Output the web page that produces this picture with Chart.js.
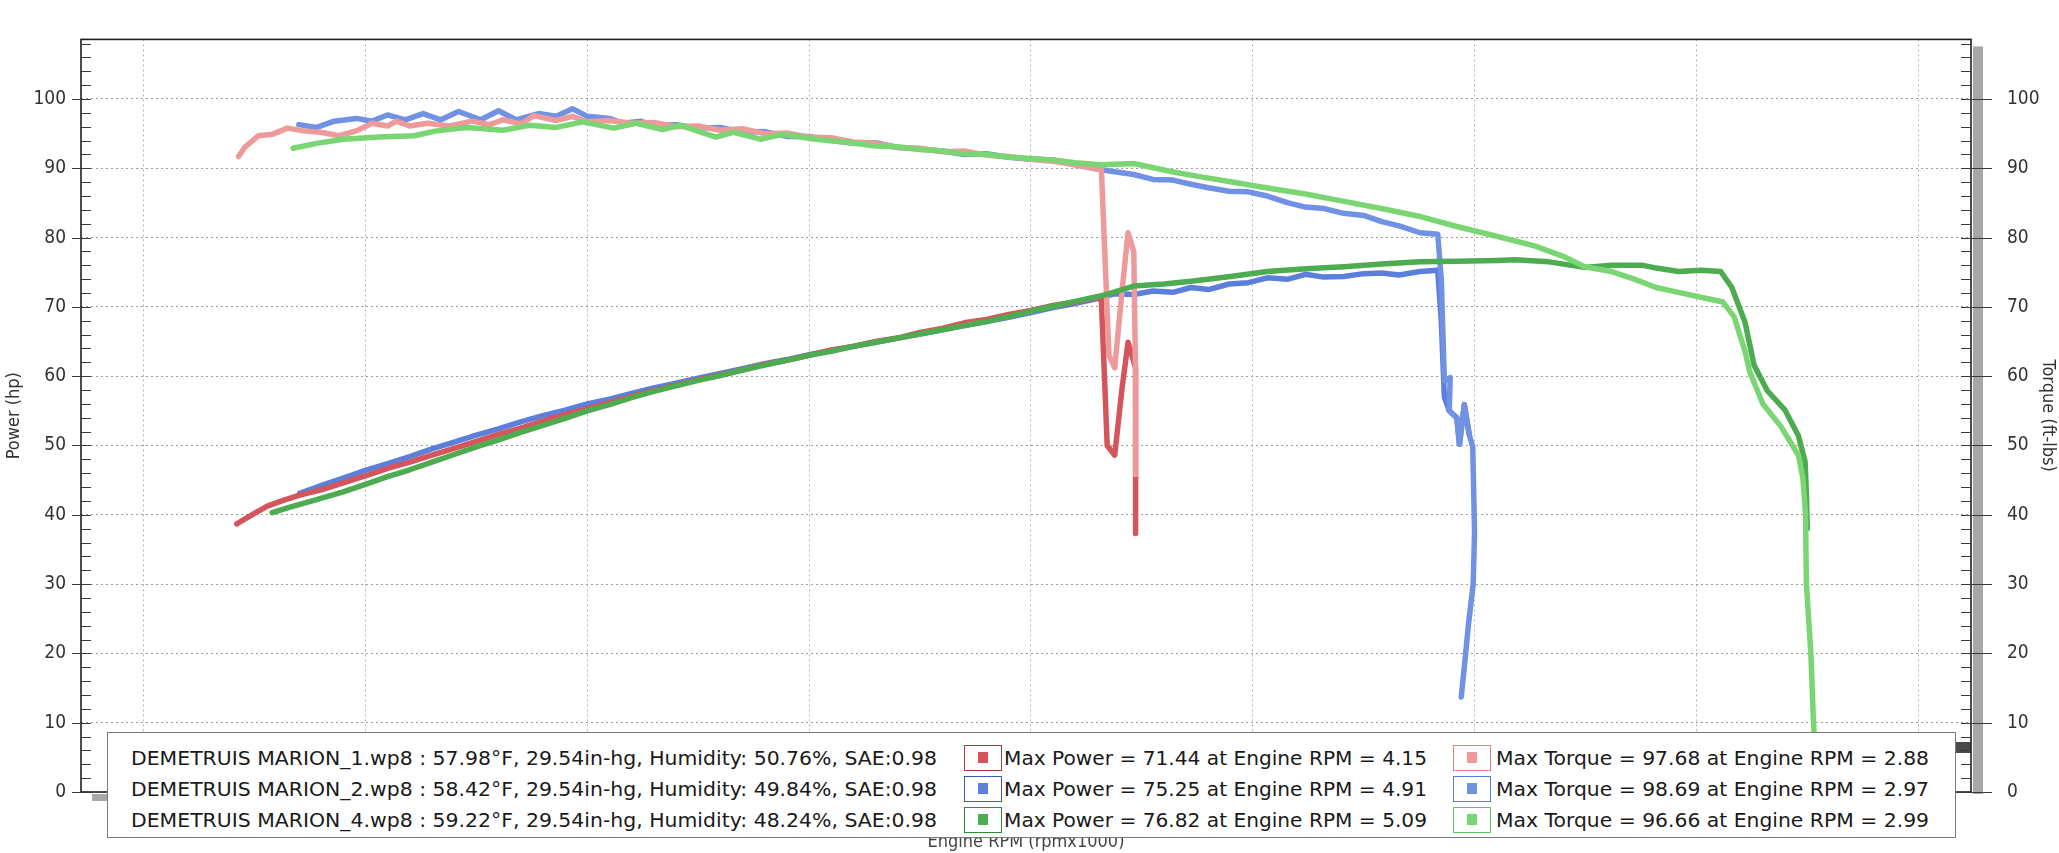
<!DOCTYPE html>
<html><head><meta charset="utf-8">
<script src="https://cdn.jsdelivr.net/npm/chart.js@4.4.1/dist/chart.umd.min.js"></script>
<style>
html,body{margin:0;padding:0;background:#fff;}
#wrap{position:relative;width:2059px;height:853px;overflow:hidden;background:#fff;}
#c{position:absolute;left:0;top:0;}
#legend{position:absolute;left:107px;top:732px;width:1847px;height:104px;border:1px solid #7a7a7a;background:#fff;
 font-family:"DejaVu Sans",sans-serif;font-size:19px;color:#1a1a1a;}
.t{position:absolute;white-space:nowrap;transform-origin:0 50%;line-height:24px;}
.sw{position:absolute;width:38px;height:26px;border:1.5px solid;box-sizing:border-box;}
.sw i{position:absolute;left:13px;top:6px;width:10px;height:11px;}
</style></head>
<body><div id="wrap"><canvas id="c" width="2059" height="853"></canvas><div id="legend"></div></div>
<script>
// ---------- data ----------
const xGridTicks = [2.0,2.5,3.0,3.5,4.0,4.5,5.0,5.5,6.0];
const yTickLabels = [0,10,20,30,40,50,60,70,80,90,100];

const redPowerRpm = [2.21,2.25,2.28,2.32,2.35,2.40,2.45,2.50,2.55,2.60,2.65,2.70,2.75,2.80,2.85,2.90,2.95,3.00,3.05,3.10,3.15,3.20,3.25,3.30,3.35,3.40,3.45,3.50,3.55,3.60,3.65,3.70,3.75,3.80,3.85,3.90,3.95,4.00,4.05,4.10,4.15,4.159,4.172,4.189,4.205,4.219,4.236,4.236];
const redPower    = [38.7,40.2,41.3,42.2,42.8,43.6,44.6,45.6,46.7,47.6,48.6,49.6,50.6,51.6,52.5,53.5,54.5,55.3,56.2,57.1,57.9,58.7,59.5,60.2,60.9,61.7,62.3,63.0,63.8,64.3,65.0,65.5,66.3,66.9,67.7,68.2,68.9,69.5,70.2,70.7,71.4,70.9,50.0,48.6,58.0,64.9,61.2,37.3];

const redTorqueRpm = [2.214,2.229,2.259,2.29,2.324,2.36,2.40,2.44,2.48,2.515,2.55,2.57,2.60,2.64,2.69,2.74,2.78,2.81,2.85,2.88,2.93,2.967,3.0,3.05,3.1,3.15,3.2,3.25,3.3,3.35,3.4,3.45,3.5,3.55,3.6,3.65,3.7,3.75,3.8,3.85,3.9,3.95,4.0,4.05,4.1,4.159,4.176,4.189,4.205,4.219,4.232,4.236,4.236];
const redTorque    = [91.7,93.1,94.7,94.9,95.8,95.4,95.2,94.7,95.4,96.5,96.1,96.8,96.1,96.5,96.1,96.8,96.3,97.0,96.4,97.6,96.9,97.5,96.7,96.9,96.5,96.6,96.0,96.1,95.5,95.7,95.0,95.1,94.5,94.4,93.8,93.6,93.0,92.9,92.4,92.5,91.9,91.7,91.3,91.0,90.5,89.8,63.0,61.2,72.0,80.7,77.9,60.0,45.8];

const bluePowerRpm = [2.352,2.40,2.45,2.50,2.55,2.60,2.65,2.70,2.75,2.80,2.85,2.90,2.95,3.00,3.05,3.10,3.15,3.20,3.25,3.30,3.35,3.40,3.45,3.50,3.55,3.60,3.65,3.70,3.75,3.80,3.85,3.90,3.95,4.00,4.05,4.10,4.159,4.189,4.232,4.275,4.32,4.361,4.40,4.447,4.49,4.533,4.58,4.619,4.66,4.705,4.75,4.791,4.83,4.877,4.917,4.925,4.932,4.943,4.96,4.966,4.977,4.988];
const bluePower    = [43.1,44.2,45.3,46.4,47.4,48.4,49.5,50.5,51.5,52.4,53.4,54.3,55.1,56.0,56.7,57.5,58.3,59.0,59.7,60.4,61.1,61.8,62.4,63.1,63.7,64.3,64.9,65.5,66.1,66.7,67.3,67.9,68.5,69.2,69.9,70.5,71.3,71.9,71.8,72.3,72.1,72.8,72.5,73.3,73.5,74.2,74.0,74.7,74.3,74.4,74.8,74.9,74.6,75.1,75.3,68.0,57.0,55.0,54.0,50.2,55.9,51.6];

const blueTorqueRpm = [2.35,2.39,2.43,2.48,2.515,2.55,2.59,2.63,2.67,2.71,2.76,2.80,2.84,2.89,2.93,2.967,3.0,3.05,3.08,3.12,3.15,3.2,3.25,3.3,3.35,3.4,3.45,3.5,3.55,3.6,3.65,3.7,3.75,3.8,3.85,3.9,3.95,4.0,4.05,4.1,4.159,4.189,4.232,4.275,4.32,4.361,4.40,4.447,4.49,4.533,4.58,4.619,4.66,4.705,4.75,4.791,4.83,4.877,4.917,4.925,4.932,4.945,4.943,4.96,4.966,4.977,4.988,4.996,5.0,4.997,4.986,4.98,4.97];
const blueTorque    = [96.3,95.9,96.8,97.2,96.8,97.7,97.0,97.9,97.0,98.2,97.0,98.3,97.0,97.9,97.5,98.6,97.5,97.2,96.5,96.8,96.2,96.3,95.8,95.9,95.2,95.3,94.6,94.6,94.0,93.6,93.7,93.0,92.8,92.5,92.0,92.1,91.6,91.3,91.2,90.5,89.8,89.5,89.1,88.4,88.3,87.7,87.2,86.7,86.6,86.0,85.0,84.4,84.2,83.5,83.2,82.3,81.7,80.7,80.5,74.0,59.3,59.8,55.0,54.0,50.2,55.9,51.6,49.8,37.5,30.0,24.0,20.0,13.7];

const greenPowerRpm = [2.29,2.33,2.38,2.45,2.50,2.55,2.60,2.65,2.70,2.75,2.80,2.85,2.90,2.95,3.00,3.05,3.10,3.15,3.20,3.25,3.30,3.35,3.40,3.45,3.50,3.55,3.60,3.65,3.70,3.75,3.80,3.85,3.90,3.95,4.00,4.05,4.10,4.159,4.232,4.30,4.361,4.45,4.533,4.62,4.705,4.79,4.877,4.96,5.05,5.09,5.168,5.248,5.309,5.38,5.41,5.46,5.51,5.555,5.58,5.61,5.63,5.66,5.70,5.73,5.745,5.748,5.75];
const greenPower    = [40.3,41.1,42.0,43.3,44.4,45.5,46.5,47.6,48.7,49.8,50.8,51.9,52.9,53.9,55.0,55.9,56.9,57.8,58.6,59.4,60.1,60.9,61.6,62.3,63.0,63.6,64.3,64.9,65.5,66.1,66.7,67.3,67.9,68.6,69.4,70.1,70.8,71.6,73.0,73.3,73.7,74.4,75.1,75.5,75.8,76.2,76.5,76.6,76.7,76.8,76.5,75.7,76.0,76.0,75.6,75.1,75.3,75.1,72.8,67.7,61.6,57.9,55.1,51.4,47.7,43.0,38.0];

const greenTorqueRpm = [2.337,2.39,2.45,2.53,2.61,2.66,2.73,2.81,2.87,2.93,2.99,3.06,3.11,3.17,3.21,3.29,3.33,3.39,3.44,3.515,3.58,3.65,3.7,3.75,3.8,3.85,3.9,3.95,4.0,4.05,4.1,4.159,4.232,4.318,4.38,4.447,4.53,4.619,4.7,4.79,4.88,4.96,5.05,5.135,5.2,5.248,5.309,5.36,5.409,5.46,5.51,5.56,5.585,5.61,5.62,5.65,5.69,5.73,5.74,5.746,5.748,5.758,5.764,5.766];
const greenTorque    = [92.9,93.6,94.2,94.5,94.7,95.4,95.9,95.5,96.2,95.9,96.7,95.8,96.5,95.6,96.2,94.5,95.2,94.2,94.9,94.2,93.8,93.2,93.1,92.7,92.5,92.1,92.0,91.6,91.4,91.2,90.8,90.5,90.7,89.5,88.8,88.1,87.2,86.3,85.3,84.2,83.0,81.6,80.2,78.8,77.3,75.8,75.1,74.0,72.8,72.1,71.4,70.7,68.6,63.5,60.7,56.0,52.8,48.6,45.3,40.2,30.0,20.0,10.0,7.7];

// legend info
const runFiles    = ['DEMETRUIS MARION_1.wp8','DEMETRUIS MARION_2.wp8','DEMETRUIS MARION_4.wp8'];
const runTemps    = ['57.98°F','58.42°F','59.22°F'];
const runBaro     = ['29.54in-hg','29.54in-hg','29.54in-hg'];
const runHumidity = ['50.76%','49.84%','48.24%'];
const runSae      = ['0.98','0.98','0.98'];
const maxPower    = ['71.44','75.25','76.82'];
const maxPowerRpm = ['4.15','4.91','5.09'];
const maxTorque   = ['97.68','98.69','96.66'];
const maxTorqueRpm= ['2.88','2.97','2.99'];

// ---------- styles ----------
const powerColors  = ['#d4555b','#5b7fdb','#4dab50'];
const torqueColors = ['#ef9a9a','#7191e4','#7ad672'];
const powerBorders = ['#a8393e','#3a5cb8','#2f8f35'];
const torqueBorders= ['#e08585','#5a7fd6','#5cc45c'];
const NARROW = '"DejaVu Sans Condensed","Liberation Sans Narrow","Liberation Sans",sans-serif';

const pts = (xs, ys) => xs.map((x, i) => ({x: x, y: ys[i]}));
const mk = (label, xs, ys, color, axis, order) => ({
  label, data: pts(xs, ys), borderColor: color, backgroundColor: color,
  borderWidth: 5.5, pointRadius: 0, pointHoverRadius: 0, showLine: true, tension: 0,
  borderCapStyle: 'round', borderJoinStyle: 'round', yAxisID: axis, order, fill: false
});

const datasets = [
  mk('Power 1', redPowerRpm, redPower, powerColors[0], 'y', 4),
  mk('Torque 1', redTorqueRpm, redTorque, torqueColors[0], 'y2', 3),
  mk('Power 2', bluePowerRpm, bluePower, powerColors[1], 'y', 6),
  mk('Torque 2', blueTorqueRpm, blueTorque, torqueColors[1], 'y2', 5),
  mk('Power 4', greenPowerRpm, greenPower, powerColors[2], 'y', 2),
  mk('Torque 4', greenTorqueRpm, greenTorque, torqueColors[2], 'y2', 1)
];

const decor = {
  id: 'decor',
  afterDraw(chart) {
    const {ctx, chartArea: a} = chart;
    const y = chart.scales.y;
    ctx.save();
    // scroll-bar strips
    ctx.fillStyle = '#a8a8a8';
    ctx.fillRect(a.right + 2, a.top + 7, 10, a.bottom - a.top - 5);
    ctx.fillRect(a.left + 11, a.bottom + 2, 16, 7);
    ctx.fillStyle = '#4a4a4a';
    ctx.fillRect(a.right - 18, 742, 18, 11);
    // frame
    ctx.strokeStyle = '#1e1e1e';
    ctx.lineWidth = 1.6;
    ctx.strokeRect(a.left, a.top, a.right - a.left, a.bottom - a.top);
    // tick marks
    ctx.lineWidth = 1;
    for (let v = 0; v <= y.max; v += 2) {
      const py = Math.round(y.getPixelForValue(v)) + 0.5;
      const major = v % 10 === 0;
      ctx.strokeStyle = '#3a3a3a';
      ctx.beginPath();
      ctx.moveTo(a.left, py); ctx.lineTo(a.left + 10, py);
      ctx.moveTo(a.right - 10, py); ctx.lineTo(a.right, py);
      if (major) {
        ctx.moveTo(a.left - 9, py); ctx.lineTo(a.left, py);
        ctx.moveTo(a.right, py); ctx.lineTo(a.right + 21, py);
      }
      ctx.stroke();
    }
    ctx.restore();
  }
};

const gridCommon = {color: '#9c9c9c', lineWidth: 1, drawTicks: false, borderDash: [2, 3]};
const yTicksFn = s => { s.ticks = yTickLabels.map(v => ({value: v})); };
const tickFont = {family: '"DejaVu Sans Condensed","DejaVu Sans",sans-serif', size: 19};

new Chart(document.getElementById('c'), {
  type: 'scatter',
  data: {datasets},
  plugins: [decor],
  options: {
    responsive: false, animation: false, devicePixelRatio: 1,
    layout: {padding: {top: 14, left: 0, right: 0, bottom: 0}},
    plugins: {legend: {display: false}, tooltip: {enabled: false}},
    scales: {
      x: {
        type: 'linear', min: 1.859, max: 6.119,
        afterBuildTicks: s => { s.ticks = xGridTicks.map(v => ({value: v})); },
        ticks: {display: false},
        grid: Object.assign({}, gridCommon, {color: '#b4b4b4'}),
        border: {display: false, dash: [2, 3]},
        title: {display: true, text: 'Engine RPM (rpmx1000)', color: '#444',
                font: {family: NARROW, size: 18}, padding: {top: 0, bottom: 0}},
        afterFit: s => { s.height = 61; }
      },
      y: {
        type: 'linear', position: 'left', min: 0, max: 108.6,
        afterBuildTicks: yTicksFn,
        ticks: {color: '#333', padding: 15, font: tickFont},
        grid: gridCommon,
        border: {display: false, dash: [2, 3]},
        title: {display: true, text: 'Power (hp)', color: '#333',
                font: {family: NARROW, size: 18}, padding: {top: 4, bottom: 0}},
        afterFit: s => { s.width = 81; }
      },
      y2: {
        type: 'linear', position: 'right', min: 0, max: 108.6,
        afterBuildTicks: yTicksFn,
        ticks: {color: '#333', padding: 28, font: tickFont},
        grid: {display: false},
        border: {display: false},
        title: {display: true, text: 'Torque (ft-lbs)', color: '#333',
                font: {family: NARROW, size: 18}, padding: {top: 1, bottom: 0}},
        afterFit: s => { s.width = 88; }
      }
    }
  }
});

// ---------- legend box ----------
const lg = document.getElementById('legend');
const rowTops = [13, 44, 75];
const colLeft = [23, 896, 1388];
const colWidth = [806, 423, 433];
const swLeft = [856, 1345];
const spans = [[], [], []];
for (let r = 0; r < 3; r++) {
  const texts = [
    runFiles[r] + ' : ' + runTemps[r] + ', ' + runBaro[r] + ', Humidity: ' + runHumidity[r] + ', SAE:' + runSae[r],
    'Max Power = ' + maxPower[r] + ' at Engine RPM = ' + maxPowerRpm[r],
    'Max Torque = ' + maxTorque[r] + ' at Engine RPM = ' + maxTorqueRpm[r]
  ];
  texts.forEach((t, c) => {
    const s = document.createElement('span');
    s.className = 't'; s.textContent = t;
    s.style.left = colLeft[c] + 'px'; s.style.top = (rowTops[r]) + 'px';
    lg.appendChild(s); spans[c].push(s);
  });
  [[powerBorders[r], powerColors[r]], [torqueBorders[r], torqueColors[r]]].forEach((cl, k) => {
    const b = document.createElement('div');
    b.className = 'sw'; b.style.borderColor = cl[0];
    b.style.left = swLeft[k] + 'px'; b.style.top = (rowTops[r] - 1) + 'px';
    const i = document.createElement('i'); i.style.background = cl[1];
    b.appendChild(i); lg.appendChild(b);
  });
}
spans.forEach((col, c) => {
  const w = col[0].getBoundingClientRect().width;
  const k = colWidth[c] / w;
  col.forEach(s => { s.style.transform = 'scaleX(' + k.toFixed(4) + ')'; });
});
</script>
</body></html>
